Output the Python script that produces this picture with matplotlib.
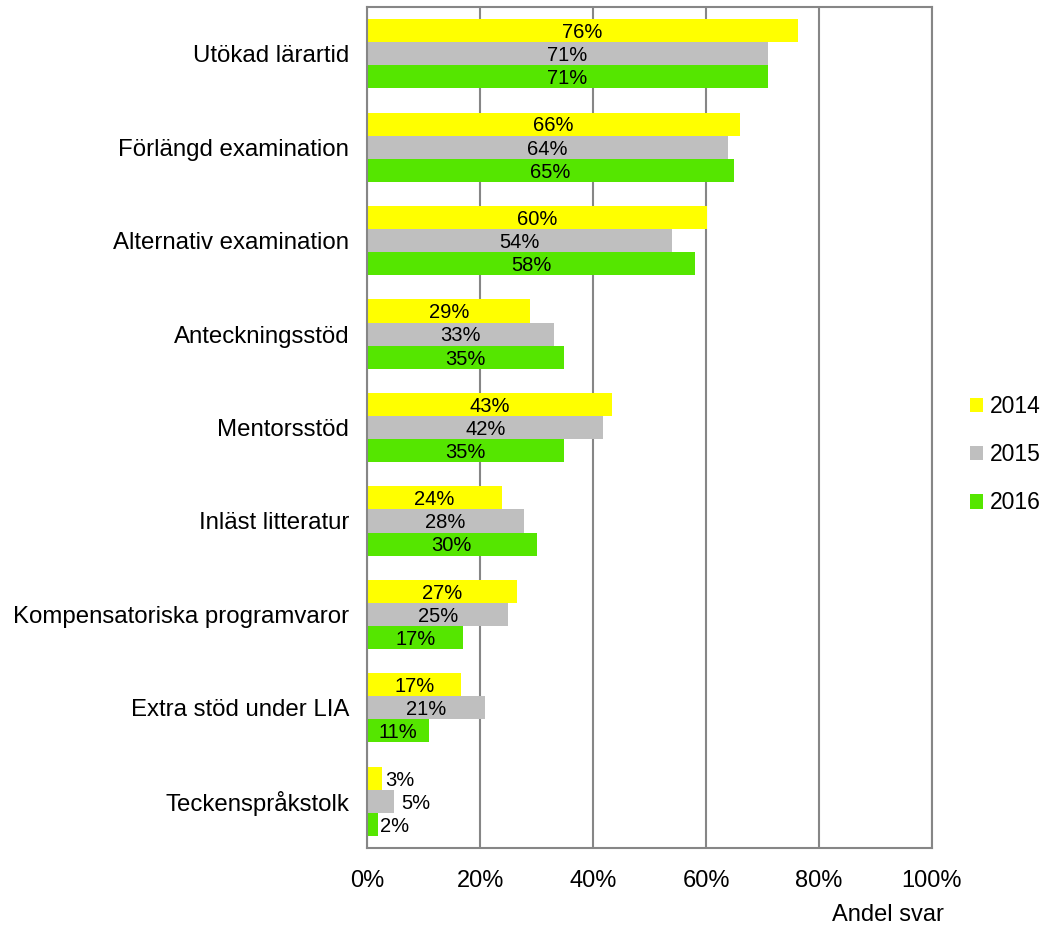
import matplotlib.pyplot as plt
import numpy as np

plt.rcParams['font.family'] = ['Liberation Sans', 'DejaVu Sans']

categories = ['Utökad lärartid', 'Förlängd examination', 'Alternativ examination',
              'Anteckningsstöd', 'Mentorsstöd', 'Inläst litteratur',
              'Kompensatoriska programvaror', 'Extra stöd under LIA', 'Teckenspråkstolk']
years = ['2014', '2015', '2016']
v2014 = [76.2, 66.0, 60.1, 28.9, 43.3, 23.9, 26.6, 16.7, 2.7]
v2015 = [70.9, 63.8, 53.9, 33.0, 41.8, 27.8, 25.0, 20.9, 4.8]
v2016 = [70.9, 64.9, 58.0, 34.9, 34.9, 30.0, 17.0, 11.0, 2.0]
labels2014 = ['76%', '66%', '60%', '29%', '43%', '24%', '27%', '17%', '3%']
labels2015 = ['71%', '64%', '54%', '33%', '42%', '28%', '25%', '21%', '5%']
labels2016 = ['71%', '65%', '58%', '35%', '35%', '30%', '17%', '11%', '2%']
colors = ['#FFFF00', '#BFBFBF', '#55E600']

fig = plt.figure(figsize=(10.46, 9.26), dpi=100)
ax = fig.add_axes([0.351, 0.0842, 0.540, 0.9082])

y = np.arange(len(categories))
h = 0.247
series = [v2014, v2015, v2016]
texts = [labels2014, labels2015, labels2016]
for i, (vals, labs) in enumerate(zip(series, texts)):
    pos = y + (i - 1) * h
    ax.barh(pos, vals, height=h, color=colors[i], label=years[i])
    for p, v, t in zip(pos, vals, labs):
        if v < 6:
            # small bars: label just outside the bar end
            ax.text(v + 0.2 + (v - 2) * 0.35, p + 0.02, t, ha='left', va='center', fontsize=14.5)
        else:
            ax.text(v / 2, p + 0.02, t, ha='center', va='center', fontsize=14.5)

ax.set_xlim(0, 100)
ax.set_ylim(len(categories) - 0.5, -0.5)
ax.set_yticks(y)
ax.set_yticklabels(categories, fontsize=17.3)
ax.set_xticks(range(0, 101, 20))
ax.set_xticklabels([f'{x}%' for x in range(0, 101, 20)], fontsize=17)
ax.tick_params(axis='y', length=0, pad=13)
ax.tick_params(axis='x', length=0, pad=16)
ax.xaxis.grid(True, color='#868686', linewidth=1.5)
ax.set_axisbelow(True)
for s in ax.spines.values():
    s.set_color('#868686')
    s.set_linewidth(1.5)

fig.text(0.849, 0.012, 'Andel svar', ha='center', va='center', fontsize=17)

fig.legend(loc='center left', bbox_to_anchor=(0.927, 0.509), frameon=False,
           fontsize=16.5, handlelength=0.6, handleheight=0.6, handletextpad=0.3,
           labelspacing=1.1, borderpad=0, borderaxespad=0)

fig.savefig('out.png', dpi=100)
